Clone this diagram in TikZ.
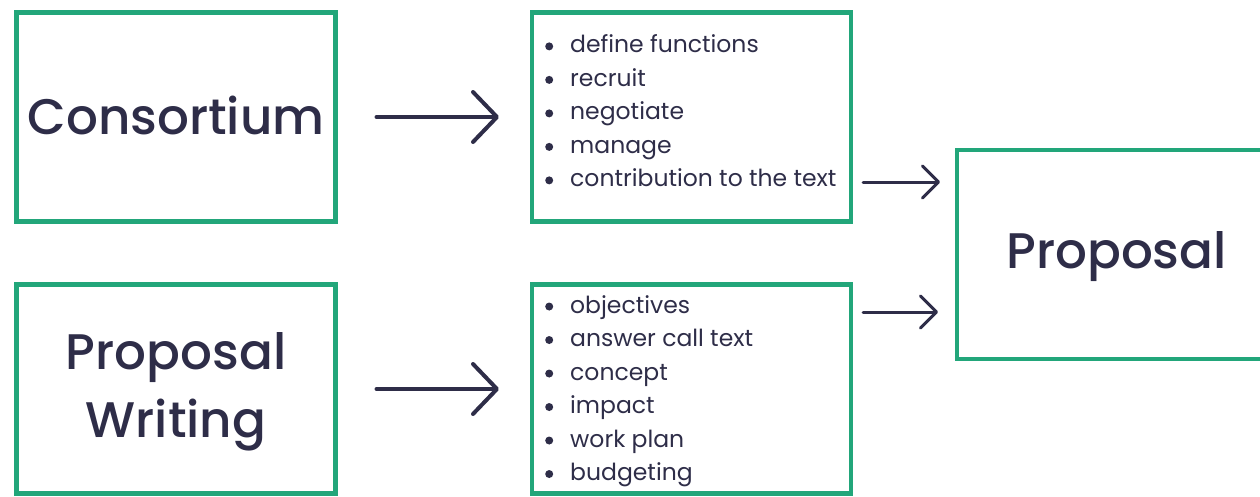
\documentclass[tikz,border=0pt]{standalone}
\usepackage{fontspec}
\setmainfont{Poppins}
\newfontfamily\popmed{Poppins Medium}
\usetikzlibrary{arrows.meta}
\definecolor{boxgreen}{HTML}{22A67A}
\definecolor{ink}{HTML}{2E2D48}
\tikzset{
  box/.style={draw=boxgreen, line width=4.6pt, minimum width=319pt, minimum height=209pt, inner sep=0pt, outer sep=0pt},
  bigtext/.style={text=ink, font=\popmed\fontsize{50}{68}\selectfont, align=center},
  listtext/.style={text=ink, font=\fontsize{23.5}{33.5}\selectfont, align=left, inner sep=0pt, anchor=west},
  bigarrow/.style={draw=ink, line width=4pt, line cap=round, -{Straight Barb[length=24pt, width=50pt, line width=4pt, round]}},
  smallarrow/.style={draw=ink, line width=3pt, line cap=round, -{Straight Barb[length=16pt, width=32pt, line width=3pt, round]}}
}
\newcommand{\itm}{\makebox[25pt][l]{\raisebox{2.5pt}{\tikz\fill[ink] (0,0) circle (4pt);}}}
\begin{document}
\begin{tikzpicture}[x=1pt, y=-1pt]
\useasboundingbox (0,0) rectangle (1260,496);
\clip (0,0) rectangle (1260,496);
\node[box] (cons) at (176,117) {};
\node[box] (pw) at (176,389) {};
\node[box] (l1) at (691.5,117) {};
\node[box] (l2) at (691.5,389) {};
\node[box] (prop) at (1116.5,254.5) {};
\node[bigtext] (consT) at ([yshift=2pt]cons.center) {Consortium};
\node[bigtext] (pwT) at ([yshift=-3pt]pw.center) {Proposal\\Writing};
\node[bigtext] (propT) at ([yshift=-2pt]prop.center) {Proposal};
\node[listtext] (l1T) at (545,111) {\itm define functions\\\itm recruit\\\itm negotiate\\\itm manage\\\itm contribution to the text};
\node[listtext] (l2T) at (545,391) {\itm objectives\\\itm answer call text\\\itm concept\\\itm impact\\\itm work plan\\\itm budgeting};
\draw[bigarrow, shorten <=41pt, shorten >=33pt] (cons.east) -- (l1.west);
\draw[bigarrow, shorten <=41pt, shorten >=33pt] (pw.east) -- (l2.west);
\coordinate (a1) at (0,182);
\coordinate (a2) at (0,312);
\draw[smallarrow, shorten <=12pt, shorten >=17pt] (l1.east |- a1) -- (prop.west |- a1);
\draw[smallarrow, shorten <=12pt, shorten >=19pt] (l2.east |- a2) -- (prop.west |- a2);
\end{tikzpicture}
\end{document}
